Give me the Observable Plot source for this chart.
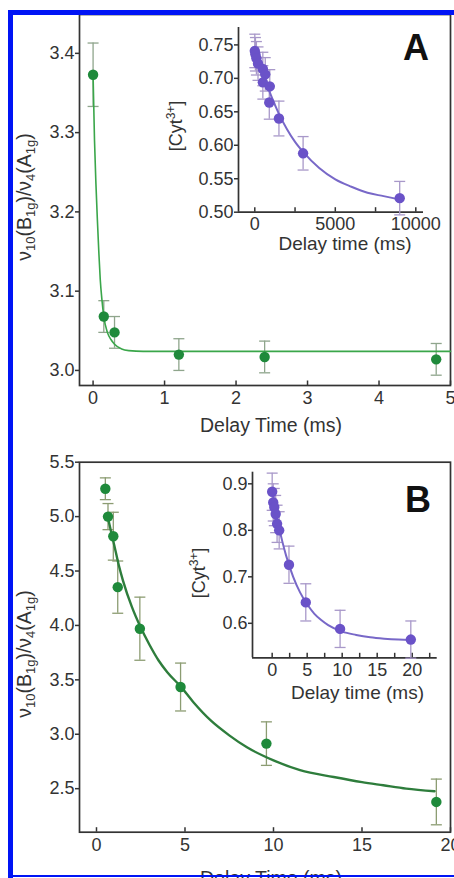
<!DOCTYPE html>
<html><head><meta charset="utf-8">
<script src="https://cdn.jsdelivr.net/npm/d3@7"></script>
<script src="https://cdn.jsdelivr.net/npm/@observablehq/plot@0.6"></script>
<style>
html,body{margin:0;padding:0;background:#fff;}
#fig{position:relative;width:454px;height:878px;overflow:hidden;background:#fff;}
#fig > svg{position:absolute;overflow:visible;}
.blue{position:absolute;background:#0014f5;z-index:10;}
#over{left:0;top:0;z-index:5;}
#over text{font-family:'Liberation Sans',Arial,Helvetica,sans-serif;fill:#333;}
</style></head><body><div id="fig">
<svg id="over" width="454" height="878">
  <text transform="translate(31,197) rotate(-90)" text-anchor="middle" font-size="19.5">ν<tspan font-size="13" dy="4">10</tspan><tspan dy="-4">(B</tspan><tspan font-size="13" dy="4">1g</tspan><tspan dy="-4">)/ν</tspan><tspan font-size="13" dy="4">4</tspan><tspan dy="-4">(A</tspan><tspan font-size="13" dy="4">1g</tspan><tspan dy="-4">)</tspan></text>
  <text transform="translate(31,654) rotate(-90)" text-anchor="middle" font-size="19.5">ν<tspan font-size="13" dy="4">10</tspan><tspan dy="-4">(B</tspan><tspan font-size="13" dy="4">1g</tspan><tspan dy="-4">)/ν</tspan><tspan font-size="13" dy="4">4</tspan><tspan dy="-4">(A</tspan><tspan font-size="13" dy="4">1g</tspan><tspan dy="-4">)</tspan></text>
  <text transform="translate(182,126) rotate(-90)" text-anchor="middle" font-size="18">[Cyt<tspan font-size="12" dy="-7">3+</tspan><tspan dy="7">]</tspan></text>
  <text transform="translate(205,573) rotate(-90)" text-anchor="middle" font-size="18">[Cyt<tspan font-size="12" dy="-7">3+</tspan><tspan dy="7">]</tspan></text>
  <text x="271" y="431.7" text-anchor="middle" font-size="19.5">Delay Time (ms)</text>
  <text x="271" y="885" text-anchor="middle" font-size="19.5">Delay Time (ms)</text>
  <text x="345" y="250" text-anchor="middle" font-size="19">Delay time (ms)</text>
  <text x="357.5" y="699" text-anchor="middle" font-size="19">Delay time (ms)</text>
  <text x="403" y="60" font-size="36" font-weight="bold" style="fill:#111">A</text>
  <text x="405" y="512" font-size="36" font-weight="bold" style="fill:#111">B</text>
</svg>
<div class="blue" style="left:8px;top:10px;width:446px;height:5px"></div>
<div class="blue" style="left:8px;top:10px;width:5px;height:868px"></div>
<div class="blue" style="left:8px;top:875px;width:446px;height:2px"></div>
</div>
<script>
// ---------- Panel A (main) ----------
const tA = [0, 0.15, 0.3, 1.2, 2.4, 4.8];
const yA = [3.373, 3.068, 3.048, 3.020, 3.017, 3.014];
const eA = [0.04, 0.02, 0.02, 0.02, 0.02, 0.02];
const fitTA = [0, 0.02, 0.04, 0.06, 0.08, 0.10, 0.125, 0.15, 0.2, 0.25, 0.3, 0.4, 0.5, 0.7, 5.0];
const fitYA = [3.372, 3.29, 3.235, 3.19, 3.15, 3.115, 3.088, 3.068, 3.048, 3.039, 3.033, 3.027, 3.025, 3.024, 3.024];
const xTicksA = [0, 1, 2, 3, 4, 5];
const yTicksA = [3.0, 3.1, 3.2, 3.3, 3.4];

// ---------- Panel A (inset) ----------
const tAi = [0, 40, 100, 200, 500, 650, 500, 930, 900, 1500, 3000, 9000];
const yAi = [0.741, 0.736, 0.730, 0.722, 0.714, 0.706, 0.694, 0.688, 0.664, 0.640, 0.588, 0.521];
const eAi = [0.025, 0.025, 0.025, 0.025, 0.025, 0.025, 0.025, 0.025, 0.025, 0.026, 0.025, 0.025];
const fitTAi = [0, 500, 1000, 1500, 2000, 2500, 3000, 4000, 5000, 6000, 7000, 8000, 9000];
const fitYAi = [0.745, 0.707, 0.675, 0.647, 0.624, 0.605, 0.590, 0.566, 0.549, 0.538, 0.529, 0.524, 0.519];
const xLabelsAi = [0, 5000, 10000];
const xTicksAi = [0, 2500, 5000, 7500, 10000];
const yTicksAi = [0.50, 0.55, 0.60, 0.65, 0.70, 0.75];

// ---------- Panel B (main) ----------
const tB = [0.5, 0.65, 0.95, 1.2, 2.45, 4.75, 9.6, 19.2];
const yB = [5.256, 5.0, 4.82, 4.352, 3.97, 3.434, 2.914, 2.378];
const eB = [0.1, 0.12, 0.22, 0.24, 0.29, 0.22, 0.2, 0.21];
const fitTB = [0.6, 0.8, 1.0, 1.25, 1.5, 2.0, 2.5, 3.0, 3.5, 4.0, 4.75, 5.5, 6.5, 7.5, 8.5, 10, 11.5, 13.4, 15, 16.2, 17.5, 19.1];
const fitYB = [5.02, 4.88, 4.74, 4.56, 4.41, 4.17, 3.98, 3.82, 3.68, 3.57, 3.44, 3.29, 3.12, 2.99, 2.88, 2.76, 2.67, 2.607, 2.56, 2.531, 2.50, 2.476];
const xTicksB = [0, 5, 10, 15, 20];
const yTicksB = [2.5, 3.0, 3.5, 4.0, 4.5, 5.0, 5.5];

// ---------- Panel B (inset) ----------
const tBi = [0, 0.15, 0.3, 0.5, 0.7, 1.0, 2.4, 4.8, 9.7, 19.8];
const yBi = [0.883, 0.860, 0.850, 0.835, 0.814, 0.800, 0.726, 0.645, 0.588, 0.565];
const eBi = [0.04, 0.04, 0.04, 0.04, 0.04, 0.04, 0.04, 0.04, 0.04, 0.04];
const fitTBi = [0, 0.5, 1, 1.5, 2, 3, 4, 5, 6, 7, 8, 10, 12, 14, 16, 18, 20];
const fitYBi = [0.885, 0.842, 0.805, 0.773, 0.745, 0.700, 0.666, 0.641, 0.621, 0.607, 0.596, 0.582, 0.575, 0.570, 0.567, 0.565, 0.564];
const xLabelsBi = [0, 5, 10, 15, 20];
const xTicksBi = [0, 2.5, 5, 7.5, 10, 12.5, 15, 17.5, 20, 22.5];
const yTicksBi = [0.6, 0.7, 0.8, 0.9];

const AX = "#333";
const FONT = "'Liberation Sans', Arial, Helvetica, sans-serif";
const cap = {draw(ctx, size) { const w = Math.sqrt(size / Math.PI); ctx.moveTo(-w, 0); ctx.lineTo(w, 0); }};
const pts = (t, y, e) => t.map((d, i) => ({t: d, y: y[i], e: e[i]}));
const curve = (t, y) => t.map((d, i) => ({t: d, y: y[i]}));

function panel(c) {
  const ph = c.height - c.mt - c.mb;
  const marks = [];
  if (c.frame) marks.push(Plot.frame({stroke: AX, strokeWidth: 1.7}));
  else marks.push(
    Plot.ruleX([c.xd[0]], {stroke: AX, strokeWidth: 1.7}),
    Plot.ruleY([c.yd[0]], {stroke: AX, strokeWidth: 1.7})
  );
  marks.push(
    Plot.axisY(c.yticks, {tickSize: 4, tickPadding: 1, tickFormat: c.yfmt, stroke: AX, strokeWidth: 1.5, label: null}),
    Plot.axisX(c.xlabels, {tickSize: 0, tickPadding: c.xpad, tickFormat: "d", label: null}),
    Plot.tickX(c.xticks, {x: d => d, insetTop: ph - 4.5, stroke: AX, strokeWidth: 1.5}),
    Plot.ruleX(c.data, {x: "t", y1: d => d.y - d.e, y2: d => d.y + d.e, stroke: c.err, strokeWidth: 1.3}),
    Plot.dot(c.data, {x: "t", y: d => d.y + d.e, symbol: cap, r: 5.5, fill: "none", stroke: c.err, strokeWidth: 1.3}),
    Plot.dot(c.data, {x: "t", y: d => d.y - d.e, symbol: cap, r: 5.5, fill: "none", stroke: c.err, strokeWidth: 1.3}),
    Plot.line(c.fit, {x: "t", y: "y", stroke: c.line, strokeWidth: c.lw, curve: "monotone-x"}),
    Plot.dot(c.data, {x: "t", y: "y", r: 5.2, fill: c.dot, stroke: "none"})
  );
  const svg = Plot.plot({
    width: c.width, height: c.height,
    marginLeft: c.ml, marginRight: c.mr, marginTop: c.mt, marginBottom: c.mb,
    x: {domain: c.xd, label: null}, y: {domain: c.yd, label: null},
    style: {fontFamily: FONT, fontSize: "18px", color: AX, background: "transparent", overflow: "visible"},
    marks
  });
  svg.style.position = "absolute";
  svg.style.left = c.left + "px";
  svg.style.top = c.top + "px";
  document.getElementById("fig").insertBefore(svg, document.getElementById("over"));
}

panel({left: 0, top: 0, width: 454, height: 440, ml: 79, mr: 4, mt: 14, mb: 55,
  xd: [-0.19, 5.0], yd: [2.981, 3.449], frame: true,
  yticks: yTicksA, yfmt: ".1f", xlabels: xTicksA, xticks: xTicksA, xpad: 6,
  data: pts(tA, yA, eA), fit: curve(fitTA, fitYA),
  err: "#8fa58c", line: "#3aa64a", lw: 1.6, dot: "#1f8a3b"});

panel({left: 150, top: 20, width: 290, height: 240, ml: 88, mr: 17, mt: 7, mb: 48.3,
  xd: [-1012, 10478], yd: [0.50, 0.776], frame: false,
  yticks: yTicksAi, yfmt: ".2f", xlabels: xLabelsAi, xticks: xTicksAi, xpad: 5,
  data: pts(tAi, yAi, eAi), fit: curve(fitTAi, fitYAi),
  err: "#a898c9", line: "#7868c8", lw: 2, dot: "#6a52c8"});

panel({left: 0, top: 440, width: 454, height: 438, ml: 79, mr: 4, mt: 21.7, mb: 46.3,
  xd: [-0.96, 20], yd: [2.10, 5.5], frame: true,
  yticks: yTicksB, yfmt: ".1f", xlabels: xTicksB, xticks: xTicksB, xpad: 6,
  data: pts(tB, yB, eB), fit: curve(fitTB, fitYB),
  err: "#8c9c72", line: "#2e7d3c", lw: 2.4, dot: "#1f8a3b"});

panel({left: 160, top: 460, width: 290, height: 250, ml: 92, mr: 13.3, mt: 11.7, mb: 52.7,
  xd: [-2.81, 23.57], yd: [0.5258, 0.925], frame: false,
  yticks: yTicksBi, yfmt: ".1f", xlabels: xLabelsBi, xticks: xTicksBi, xpad: 5,
  data: pts(tBi, yBi, eBi), fit: curve(fitTBi, fitYBi),
  err: "#a898c9", line: "#7868c8", lw: 2, dot: "#6a52c8"});
</script></body></html>
